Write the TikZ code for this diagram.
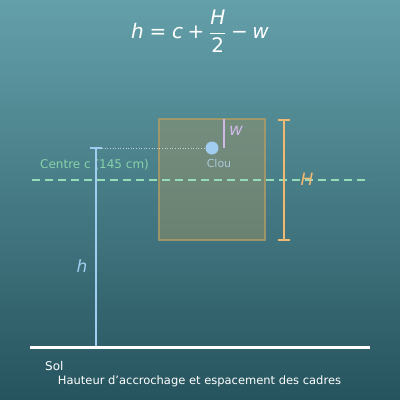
\documentclass[tikz,border=0pt]{standalone}
\usepackage{fontspec}
\setmainfont{DejaVu Sans}
\usetikzlibrary{calc}
\definecolor{bgtop}{RGB}{100,160,170}
\definecolor{bgbot}{RGB}{38,84,94}
\definecolor{nailblue}{RGB}{160,205,240}
\definecolor{mint}{RGB}{150,220,185}
\definecolor{mintt}{RGB}{135,210,170}
\definecolor{lav}{RGB}{205,185,230}
\definecolor{orng}{RGB}{240,185,115}
\definecolor{framefill}{RGB}{150,145,105}
\definecolor{frameedge}{RGB}{175,155,100}
\definecolor{cloutext}{RGB}{170,200,215}
\tikzset{
  lbl/.style={inner sep=0pt, font=\fontsize{12}{14}\selectfont},
  mathlbl/.style={inner sep=0pt, font=\fontsize{17}{20}\selectfont\itshape},
}
\begin{document}
\begin{tikzpicture}[x=1pt,y=-1pt]
\useasboundingbox (0,0) rectangle (400,400);
\shade[top color=bgtop, bottom color=bgbot] (0,0) rectangle (400,400);
% title
\node[inner sep=0pt, text=white, font=\fontsize{20}{24}\selectfont] (title) at (200,31)
  {$\displaystyle\mbox{\itshape h}\mathrel{\mbox{=}}\mbox{\itshape c}\mathbin{\mbox{+}}\frac{\mbox{\itshape H}}{\mbox{2}}\mathbin{\mbox{−}}\mbox{\itshape w}$};
% frame
\node[draw=frameedge, line width=2pt, fill=framefill, fill opacity=0.5, draw opacity=0.8, minimum width=106pt, minimum height=121pt, inner sep=0pt] (frame) at (212,179.5) {};
% centre dashed line
\coordinate (dl) at (32,180);
\coordinate (dr) at (370,180);
\draw[mint, line width=2.4pt, dash pattern=on 8pt off 5pt] (dl) -- (dr);
\node[lbl, text=mintt, anchor=west] (centre) at (40,165) {Centre c (145 cm)};
% nail
\node[circle, fill=nailblue, minimum size=13pt, inner sep=0pt] (nail) at (212,148) {};
\coordinate (hleft) at (97,148);
\draw[white, opacity=0.6, line width=0.6pt, dotted] (hleft) -- (nail.west);
\node[inner sep=0pt, text=cloutext, font=\fontsize{11}{13}\selectfont] (clou) at (219,163) {Clou};
% w
\coordinate (wt) at (224,119);
\coordinate (wb) at (224,148);
\draw[lav, line width=2pt] (wt) -- (wb);
\node[mathlbl, text=lav] (wl) at (236,131) {w};
% h
\coordinate (hb) at (96,347);
\coordinate (ht) at (96,148);
\draw[nailblue, line width=2pt] (ht) -- (hb);
\draw[nailblue, line width=1.5pt] ($(ht)+(-6,0)$) -- ($(ht)+(6,0)$);
\node[mathlbl, text=nailblue] (hl) at (82,266) {h};
% H
\coordinate (Ht) at (284,120);
\coordinate (Hb) at (284,240);
\draw[orng, line width=2pt] (Ht) -- (Hb);
\draw[orng, line width=1.5pt] ($(Ht)+(-6,0)$) -- ($(Ht)+(6,0)$);
\draw[orng, line width=1.5pt] ($(Hb)+(-6,0)$) -- ($(Hb)+(6,0)$);
\node[mathlbl, text=orng] (Hl) at (307,179) {H};
% ground
\coordinate (gl) at (30,347);
\coordinate (gr) at (370,347);
\draw[white, line width=3pt] (gl) -- (gr);
\node[lbl, text=white, anchor=west] (sol) at (45,366) {Sol};
\node[inner sep=0pt, text=white, font=\fontsize{11.5}{13}\selectfont] (cap) at (199.5,381) {Hauteur d’accrochage et espacement des cadres};
\end{tikzpicture}
\end{document}
